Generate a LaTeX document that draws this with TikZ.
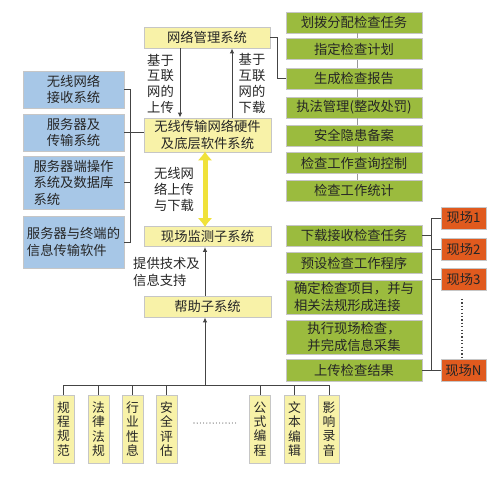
\documentclass[tikz,border=0pt]{standalone}
\usepackage{fontspec}
\setmainfont{Noto Sans CJK SC}
\usetikzlibrary{arrows.meta}
\definecolor{yel}{HTML}{F8F2A8}
\definecolor{grn}{HTML}{9BBB3E}
\definecolor{blu}{HTML}{A7C7E7}
\definecolor{org}{HTML}{E05A1E}
\definecolor{txt}{HTML}{262626}
\definecolor{ln}{HTML}{444444}
\definecolor{ya}{HTML}{F0E23A}
\begin{document}
\begin{tikzpicture}[x=1pt,y=-1pt,
 box/.style={draw=gray!45,line width=0.8pt,inner sep=0pt,text=txt,font=\fontsize{13.3}{16.5}\selectfont},
 ybox/.style={box,fill=yel,minimum width=127pt,minimum height=21pt},
 gbox/.style={box,fill=grn,minimum width=136pt,minimum height=21pt},
 bbox/.style={box,fill=blu,minimum width=101pt},
 obox/.style={box,fill=org,minimum width=45pt,minimum height=22pt},
 vbox/.style={box,fill=yel,minimum width=21pt,minimum height=68pt,align=center,font=\fontsize{12.8}{14.3}\selectfont},
 conn/.style={draw=ln,line width=1pt},
 arr/.style={conn,-{Latex[length=5pt,width=4.5pt]}},
 lbl/.style={text=txt,font=\fontsize{13.3}{16}\selectfont,align=left,inner sep=0pt}
]
\useasboundingbox[fill=white] (0,0) rectangle (500,482);

% yellow boxes
\node[ybox,minimum width=126pt] (nm) at (207,37.5) {网络管理系统};
\node[ybox,minimum height=34pt,align=center] (wx) at (207.5,135) {无线传输网络硬件\\及底层软件系统};
\node[ybox,minimum height=20pt] (xc) at (207.5,236.5) {现场监测子系统};
\node[ybox] (bz) at (207.5,306.5) {帮助子系统};

% green boxes
\node[gbox] (g1) at (354,22.5) {划拨分配检查任务};
\node[gbox] (g2) at (354,49) {指定检查计划};
\node[gbox] (g3) at (354,78.5) {生成检查报告};
\node[gbox] (g4) at (354,107.5) {执法管理(整改处罚)};
\node[gbox] (g5) at (354,135.5) {安全隐患备案};
\node[gbox] (g6) at (354,163) {检查工作查询控制};
\node[gbox] (g7) at (354,190.5) {检查工作统计};
\node[gbox] (g8) at (354,235.5) {下载接收检查任务};
\node[gbox] (g9) at (354,263) {预设检查工作程序};
\node[gbox,minimum height=34pt,align=left] (g10) at (354,297) {确定检查项目，并与\\相关法规形成连接};
\node[gbox,minimum height=34pt,align=center] (g11) at (354,337) {执行现场检查，\\并完成信息采集};
\node[gbox,minimum height=22pt] (g12) at (354,370.5) {上传检查结果};

\foreach \a/\b in {g1/g2,g2/g3,g3/g4,g4/g5,g5/g6,g6/g7}
  \draw[conn,draw=gray!80] ([xshift=3pt]\a.south) -- ([xshift=3pt]\b.north);

% orange boxes
\node[obox] (o1) at (463.5,218) {现场1};
\node[obox] (o2) at (463.5,249.5) {现场2};
\node[obox] (o3) at (463.5,279.5) {现场3};
\node[obox] (oN) at (463.5,370.5) {现场N};
\draw[draw=ln,line width=1.2pt,dash pattern=on 1.2pt off 2.2pt] (o3.south -| 462,0) ++(0,8) coordinate (d1) -- (d1 |- oN.north) ++(0,-4);

\coordinate (bx) at (431,0);
\draw[conn] (o1.west) -- (o1.west -| bx) -- (oN.west -| bx) -- (oN.west);
\draw[conn] (o2.west) -- (o2.west -| bx);
\draw[conn] (o3.west) -- (o3.west -| bx);
\draw[conn] (g8.east) -- (g8.east -| bx);
\draw[conn] (g12.east) -- (g12.east -| bx);

% blue boxes
\node[bbox,minimum height=37pt,align=center] (b1) at (73.5,89.5) {无线网络\\接收系统};
\node[bbox,minimum height=37pt,align=center] (b2) at (73.5,132.5) {服务器及\\传输系统};
\node[bbox,minimum height=53pt,align=left] (b3) at (73.5,182.5) {服务器端操作\\系统及数据库\\系统};
\node[bbox,minimum height=52pt,align=left] (b4) at (73.5,242) {服务器与终端的\\信息传输软件};

\coordinate (by) at (130,0);
\draw[conn] (b1.east) -- (b1.east -| by) -- (b4.east -| by) -- (b4.east);
\draw[conn] (b3.east) -- (b3.east -| by);
\draw[conn] (b2.east) -- (wx.west |- b2.east);

% arrows between nm and wx
\draw[arr] (nm.south -| 180,0) -- (wx.north -| 180,0);
\draw[arr] (wx.north -| 232,0) -- (nm.south -| 232,0);
\node[lbl,align=center,font=\fontsize{13.3}{15.7}\selectfont] (l1) at (160.5,83.5) {基于\\互联\\网的\\上传};
\node[lbl,align=center,font=\fontsize{13.3}{15.7}\selectfont] (l2) at (252,83.5) {基于\\互联\\网的\\下载};

\draw[conn] (nm.east) -- ++(7,0) |- (g3.west);

% yellow double arrow
\draw[draw=ya,line width=5pt,{Latex[length=9pt,width=15pt]}-{Latex[length=9pt,width=15pt]}] ([yshift=1pt]wx.south -| 205,0) -- ([yshift=-1pt]xc.north -| 205,0);
\node[lbl,align=left] (l3) at (174,189) {无线网\\络上传\\与下载};

% help
\draw[arr] (bz.north -| 205,0) -- (xc.south -| 205,0);
\node[lbl,anchor=west,font=\fontsize{13.3}{17}\selectfont] (l4) at (133,271.5) {提供技术及\\信息支持};

% bottom boxes
\node[vbox] (v1) at (63.5,429) {规\\程\\规\\范};
\node[vbox] (v2) at (98.5,429) {法\\律\\法\\规};
\node[vbox] (v3) at (132.5,429) {行\\业\\性\\息};
\node[vbox] (v4) at (166.5,429) {安\\全\\评\\估};
\node[vbox] (v5) at (260,429) {公\\式\\编\\程};
\node[vbox] (v6) at (294.5,429) {文\\本\\编\\辑};
\node[vbox] (v7) at (329,429) {影\\响\\录\\音};

\coordinate (bus) at (0,385);
\draw[conn] (v1.north |- bus) -- (v7.north |- bus);
\foreach \v in {v1,v2,v3,v4,v5,v6,v7}
  \draw[conn] (\v.north |- bus) -- (\v.north);
\draw[arr] (bz.south |- bus) ++(-2.5,0) coordinate (ab) (ab) -- (ab |- bz.south);
\coordinate (dl) at (194,423);
\coordinate (dr) at (237,423);
\draw[draw=ln,line width=1.1pt,line cap=round,dash pattern=on 0pt off 3.2pt] (dl) -- (dr);
\end{tikzpicture}
\end{document}
